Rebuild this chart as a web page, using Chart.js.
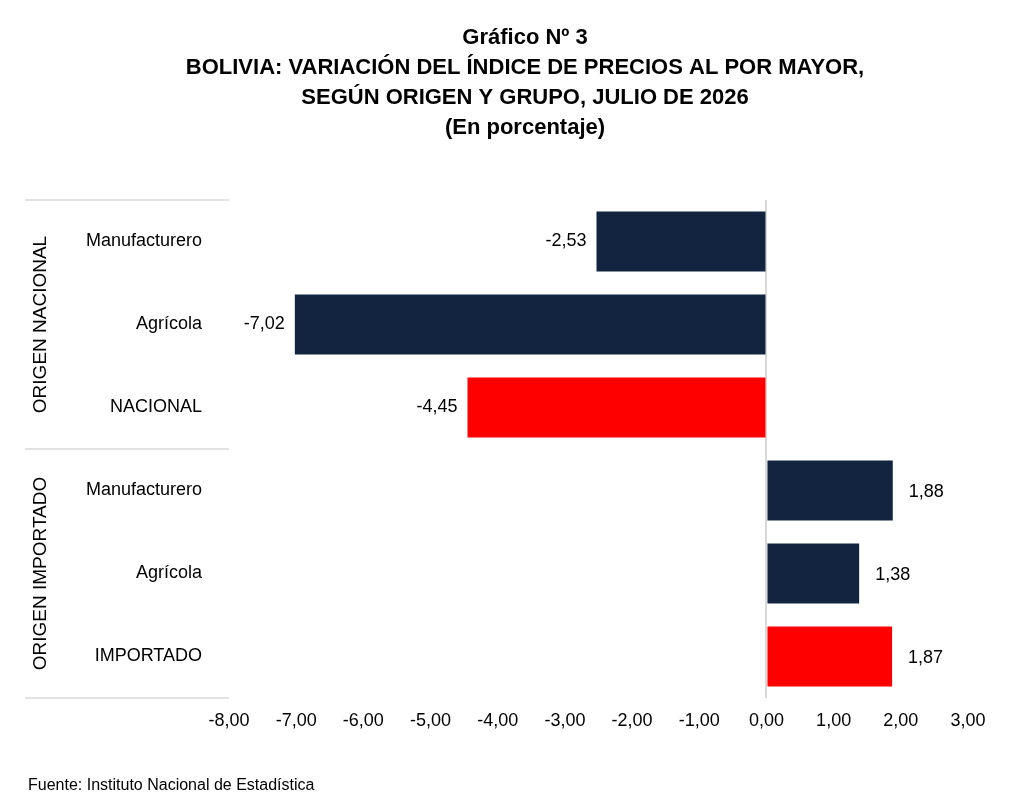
<!DOCTYPE html>
<html><head><meta charset="utf-8">
<script src="https://cdn.jsdelivr.net/npm/chart.js@4"></script>
<style>html,body{margin:0;padding:0;background:#fff}#w{width:1013px;height:812px}</style>
</head><body><div id="w"><canvas id="c"></canvas></div>
<script>
const categories = ["Manufacturero","Agrícola","NACIONAL","Manufacturero","Agrícola","IMPORTADO"];
const values = [-2.53,-7.02,-4.45,1.88,1.38,1.87];
const groups = ["ORIGEN NACIONAL","ORIGEN IMPORTADO"];
const titleLines = ["Gráfico Nº 3","BOLIVIA: VARIACIÓN DEL ÍNDICE DE PRECIOS AL POR MAYOR,","SEGÚN ORIGEN Y GRUPO, JULIO DE 2026","(En porcentaje)"];
const source = "Fuente: Instituto Nacional de Estadística";
const fmt = v => v.toFixed(2).replace('.',',');
const colors = categories.map(c => (c==="NACIONAL"||c==="IMPORTADO") ? "#ff0000" : "#12243f");
const FONT = "'Liberation Sans', Arial, sans-serif";

const deco = {
  id:'deco',
  afterDraw(chart){
    const ctx = chart.ctx, a = chart.chartArea;
    ctx.save();
    ctx.fillStyle='#000'; ctx.textAlign='center'; ctx.textBaseline='middle';
    ctx.font = "bold 22px "+FONT;
    titleLines.forEach((t,i)=>ctx.fillText(t, 525, 38+i*30));
    ctx.font = "16px "+FONT; ctx.textAlign='left';
    ctx.fillText(source, 28, 786);
    // separators
    const y = chart.scales.y;
    const step = y.getPixelForValue(1)-y.getPixelForValue(0);
    const ys=[y.getPixelForValue(0)-step/2, y.getPixelForValue(2)+step/2, y.getPixelForValue(5)+step/2];
    ctx.strokeStyle='#d9d9d9'; ctx.lineWidth=1.5;
    ys.forEach(v=>{ctx.beginPath();ctx.moveTo(25,v);ctx.lineTo(a.left,v);ctx.stroke();});
    ctx.font = "19px "+FONT; ctx.textAlign='center';
    for(let g=0;g<2;g++){
      const cy=(ys[g]+ys[g+1])/2;
      ctx.save(); ctx.translate(41,cy); ctx.rotate(-Math.PI/2); ctx.fillText(groups[g],0,0); ctx.restore();
    }
    // data labels
    ctx.font = "18px "+FONT; ctx.textBaseline='middle';
    chart.getDatasetMeta(0).data.forEach((b,i)=>{
      const v=values[i];
      if(v<0){ctx.textAlign='right';ctx.fillText(fmt(v), b.x-10, b.y);}
      else {ctx.textAlign='left';ctx.fillText(fmt(v), b.x+16, b.y+2);}
    });
    ctx.restore();
  }
};

new Chart(document.getElementById('c'),{
  type:'bar',
  data:{labels:categories,datasets:[{data:values,backgroundColor:colors,barPercentage:0.72,categoryPercentage:1}]},
  options:{
    indexAxis:'y',responsive:true,maintainAspectRatio:false,animation:false,
    layout:{padding:{top:200,right:45,left:0,bottom:0}},
    plugins:{legend:{display:false},tooltip:{enabled:false},title:{display:false}},
    scales:{
      x:{min:-8,max:3,
        ticks:{stepSize:1,color:'#000',font:{size:18,family:FONT},padding:12,callback:v=>fmt(v)},
        grid:{drawTicks:false,lineWidth:2,color:c=>c.tick&&c.tick.value===0?'#d9d9d9':'rgba(0,0,0,0)'},
        border:{display:false},
        afterFit(s){s.height=114;}},
      y:{ticks:{color:'#000',font:{size:18,family:FONT},padding:19},
        grid:{display:false},border:{display:false},
        afterFit(s){s.width=229;}}
    }
  },
  plugins:[deco]
});
</script></body></html>
